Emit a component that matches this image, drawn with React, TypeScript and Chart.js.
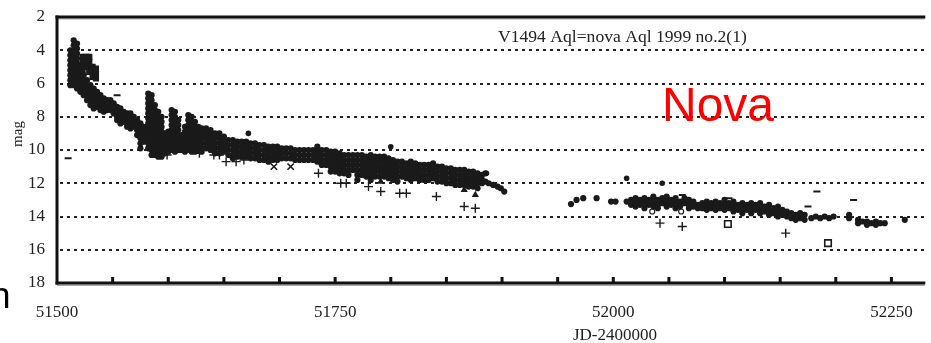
import React, { useEffect, useRef } from 'react';
import { Chart, registerables } from 'chart.js';

Chart.register(...registerables);

// ---- axis setup ----
const xMin = 51500;
const xMax = 52280;
const yMin = 2;
const yMax = 18;
const xLabelTicks = [51500, 51750, 52000, 52250];
const xMinorStep = 50;
const gridMags = [4, 6, 8, 10, 12, 14, 16];

// ---- data: each row is [JD-2400000, mag, mag, ...] read column by column ----
const riseColumns: number[][] = [
  [51512, 4.0, 4.3, 4.6, 4.9, 5.2, 5.5, 5.8, 6.1],
  [51515, 3.4, 3.7, 4.0, 4.3, 4.6, 4.9, 5.2, 5.5, 5.8, 6.1],
  [51518, 3.6, 3.9, 4.2, 4.5, 4.8, 5.1, 5.4, 5.7, 6.0, 6.3],
  [51521, 5.0, 5.3, 5.6, 5.9, 6.2, 6.5],
  [51524, 5.5, 5.8, 6.1, 6.4, 6.7],
  [51527, 5.8, 6.1, 6.4, 6.7, 7.0],
  [51530, 6.1, 6.4, 6.7, 7.0, 7.3],
  [51533, 6.3, 6.6, 6.9, 7.2, 7.5],
  [51536, 6.5, 6.8, 7.1, 7.4],
  [51539, 6.7, 7.0, 7.3, 7.6],
  [51542, 6.9, 7.2, 7.5, 7.7],
  [51545, 7.0, 7.3, 7.6],
  [51548, 7.0, 7.3, 7.6],
  [51551, 7.2, 7.5, 7.8],
  [51554, 7.4, 7.7, 8.0, 8.2],
  [51557, 7.5, 7.8, 8.1, 8.4],
  [51560, 7.7, 8.0, 8.3],
  [51563, 7.8, 8.1, 8.4, 8.6],
  [51566, 7.8, 8.1, 8.4, 8.7],
  [51569, 8.0, 8.3, 8.6],
  [51572, 8.2, 8.5, 8.8, 9.1],
  [51575, 8.4, 8.7, 9.0, 9.3, 9.6, 9.9],
  [51578, 8.6, 8.9, 9.2, 9.5],
];

const flareColumns: number[][] = [
  [51582, 6.6, 6.9, 7.2, 7.5, 7.8, 8.1, 8.4, 8.7, 9.0, 9.3, 9.6, 9.9],
  [51585, 6.7, 7.0, 7.3, 7.6, 7.9, 8.2, 8.5, 8.8, 9.1, 9.4, 9.7, 10.0, 10.3],
  [51588, 7.3, 7.6, 7.9, 8.2, 8.5, 8.8, 9.1, 9.4, 9.7, 10.0, 10.3],
  [51591, 7.7, 8.0, 8.3, 8.6, 8.9, 9.2, 9.5, 9.8, 10.1, 10.4],
  [51594, 8.0, 8.3, 8.6, 8.9, 9.2, 9.5, 9.8, 10.1, 10.4],
  [51597, 9.0, 9.3, 9.6, 9.9, 10.2],
  [51600, 8.9, 9.2, 9.5, 9.8, 10.1],
  [51603, 7.6, 7.9, 8.2, 8.5, 8.8, 9.1, 9.4, 9.7, 10.0],
  [51606, 7.7, 8.0, 8.3, 8.6, 8.9, 9.2, 9.5, 9.8, 10.1],
  [51609, 8.2, 8.5, 8.8, 9.1, 9.4, 9.7, 10.0],
  [51612, 9.1, 9.4, 9.7, 10.0],
  [51615, 8.6, 8.9, 9.2, 9.5, 9.8, 10.1],
  [51618, 7.9, 8.2, 8.5, 8.8, 9.1, 9.4, 9.7, 10.0],
  [51621, 8.0, 8.3, 8.6, 8.9, 9.2, 9.5, 9.8, 10.1],
  [51624, 8.3, 8.6, 8.9, 9.2, 9.5, 9.8, 10.1],
  [51627, 8.6, 8.9, 9.2, 9.5, 9.8, 10.0],
  [51630, 8.7, 9.0, 9.3, 9.6, 9.9, 10.1],
  [51634, 8.7, 9.0, 9.3, 9.6, 9.9],
  [51638, 8.8, 9.1, 9.4, 9.7, 10.0],
  [51642, 9.0, 9.3, 9.6, 9.9, 10.2],
  [51646, 9.0, 9.3, 9.6, 9.9, 10.2],
  [51650, 9.2, 9.5, 9.8, 10.1],
];

const declineColumns: number[][] = [
  [51654, 9.4, 9.7, 10.0, 10.3],
  [51658, 9.4, 9.7, 10.0, 10.3, 10.5],
  [51662, 9.5, 9.8, 10.1, 10.4],
  [51666, 9.5, 9.8, 10.1, 10.4],
  [51670, 9.5, 9.8, 10.1, 10.4],
  [51674, 9.6, 9.9, 10.2, 10.5],
  [51678, 9.6, 9.9, 10.2, 10.5],
  [51682, 9.7, 10.0, 10.3, 10.6],
  [51686, 9.7, 10.0, 10.3, 10.6],
  [51690, 9.8, 10.1, 10.4, 10.7],
  [51694, 9.8, 10.1, 10.4, 10.6],
  [51698, 9.8, 10.1, 10.4, 10.6],
  [51702, 9.9, 10.2, 10.5],
  [51706, 9.9, 10.2, 10.5],
  [51710, 9.9, 10.2, 10.5],
  [51714, 10.0, 10.3, 10.6],
  [51718, 10.0, 10.3, 10.6],
  [51722, 10.0, 10.3, 10.6],
  [51726, 10.0, 10.3, 10.6],
  [51730, 10.0, 10.3, 10.6],
  [51734, 9.8, 10.1, 10.4, 10.7],
  [51738, 10.0, 10.3, 10.6, 10.9],
  [51742, 10.0, 10.3, 10.6, 10.9],
  [51746, 10.1, 10.4, 10.7, 11.0, 11.3],
  [51750, 10.1, 10.4, 10.7, 11.0, 11.3],
  [51754, 10.2, 10.5, 10.8, 11.1, 11.4],
  [51758, 10.3, 10.6, 10.9, 11.2, 11.4],
  [51762, 10.3, 10.6, 10.9, 11.2, 11.5],
  [51766, 10.3, 10.6, 10.9, 11.2],
  [51770, 10.3, 10.6, 10.9, 11.2, 11.5, 11.8],
  [51774, 10.3, 10.6, 10.9, 11.2, 11.5],
  [51778, 10.4, 10.7, 11.0, 11.3, 11.6],
  [51782, 10.3, 10.6, 10.9, 11.2, 11.5, 11.8],
  [51786, 10.4, 10.7, 11.0, 11.3, 11.6],
  [51790, 10.4, 10.7, 11.0, 11.3, 11.6],
  [51794, 10.4, 10.7, 11.0, 11.3, 11.6],
  [51798, 10.5, 10.8, 11.1, 11.4, 11.7],
  [51802, 10.6, 10.9, 11.2, 11.5, 11.8],
  [51806, 10.7, 11.0, 11.3, 11.6, 11.9],
  [51810, 10.7, 11.0, 11.3, 11.6],
  [51814, 10.8, 11.1, 11.4, 11.7],
  [51818, 10.7, 11.0, 11.3, 11.6, 11.8],
  [51822, 10.8, 11.1, 11.4, 11.7],
  [51826, 10.9, 11.2, 11.5, 11.8],
  [51830, 10.9, 11.2, 11.5, 11.8],
  [51834, 10.9, 11.2, 11.5, 11.8],
  [51838, 10.8, 11.1, 11.4, 11.7],
  [51842, 11.0, 11.3, 11.6, 11.9],
  [51846, 11.0, 11.3, 11.6, 11.9],
  [51850, 11.1, 11.4, 11.7, 12.0],
  [51854, 11.1, 11.4, 11.7, 12.0],
  [51858, 11.2, 11.5, 11.8, 12.1],
  [51862, 11.2, 11.5, 11.8, 12.1],
  [51866, 11.2, 11.5, 11.8, 12.1],
  [51870, 11.3, 11.6, 11.9, 12.2],
  [51874, 11.3, 11.6, 11.9, 12.2],
  [51878, 11.4, 11.7, 12.0, 12.3],
  [51882, 11.5, 11.8, 12.0],
  [51885, 11.4, 11.9],
  [51888, 12.0],
  [51892, 12.1],
  [51896, 12.2],
  [51899, 12.3],
  [51902, 12.5],
];

const lateColumns: number[][] = [
  [51962, 13.25],
  [51967, 13.0],
  [51973, 12.9],
  [51985, 12.9],
  [51998, 13.1],
  [52002, 13.1],
  [52012, 13.1],
  [52016, 13.0, 13.3],
  [52020, 12.9, 13.2, 13.4],
  [52024, 13.0, 13.3],
  [52028, 12.9, 13.2, 13.5],
  [52032, 13.0, 13.3],
  [52036, 12.8, 13.1, 13.4],
  [52040, 13.0, 13.3, 13.5],
  [52044, 12.9, 13.2],
  [52048, 12.8, 13.1, 13.4],
  [52052, 13.0, 13.3],
  [52056, 12.9, 13.2, 13.5],
  [52060, 13.1, 13.4],
  [52064, 12.9, 13.2],
  [52068, 13.0, 13.3, 13.5],
  [52072, 13.1, 13.4],
  [52076, 13.3, 13.5],
  [52080, 13.2, 13.5],
  [52084, 13.1, 13.4, 13.6],
  [52088, 13.2, 13.5],
  [52092, 13.1, 13.4, 13.6],
  [52096, 13.2, 13.5],
  [52100, 13.0, 13.3, 13.6],
  [52104, 13.2, 13.5],
  [52108, 13.1, 13.4, 13.7],
  [52112, 13.3, 13.6],
  [52116, 13.2, 13.5, 13.8],
  [52120, 13.3, 13.6],
  [52124, 13.2, 13.5, 13.8],
  [52128, 13.3, 13.6],
  [52132, 13.2, 13.5, 13.8],
  [52136, 13.4, 13.7],
  [52140, 13.3, 13.6, 13.9],
  [52144, 13.5, 13.8],
  [52148, 13.4, 13.7, 14.0],
  [52152, 13.6, 13.9],
  [52156, 13.7, 14.0],
  [52160, 13.8, 14.1],
  [52164, 13.9, 14.2],
  [52168, 13.8, 14.1],
  [52172, 13.9, 14.2],
  [52178, 14.1],
  [52182, 14.0],
  [52186, 14.1],
  [52190, 14.0],
  [52194, 14.1],
  [52198, 14.0],
  [52212, 13.9, 14.1],
  [52220, 14.2, 14.4],
  [52224, 14.3],
  [52228, 14.3, 14.5],
  [52232, 14.4],
  [52236, 14.3, 14.5],
  [52240, 14.4],
  [52244, 14.4],
  [52262, 14.2],
];

const squareColumns: number[][] = [
  [51523, 4.4, 4.7, 5.0, 5.3],
  [51526, 4.4, 4.7, 5.0],
  [51529, 4.4, 4.7, 5.0, 5.3],
  [51532, 5.0, 5.3, 5.6],
  [51535, 5.1, 5.4, 5.7],
];

const singleDots: number[][] = [
  [51672, 9.0], [51800, 9.8], [51886, 11.4], [52012, 11.7], [52044, 12.0],
];

const plusMarks: number[][] = [
  [51599, 10.3], [51628, 10.2], [51641, 10.3], [51646, 10.3], [51652, 10.7],
  [51661, 10.7], [51668, 10.6], [51735, 11.4], [51755, 12.0], [51760, 12.0],
  [51780, 12.2], [51791, 12.5], [51808, 12.6], [51814, 12.6], [51841, 12.8],
  [51866, 13.4], [51876, 13.5], [52042, 14.4], [52062, 14.6], [52155, 15.0],
];

const xMarks: number[][] = [[51695, 11.0], [51710, 11.0]];
const triangleMarks: number[][] = [[51791, 11.9], [51866, 12.4], [51876, 12.7]];
const openCircleMarks: number[][] = [[52035, 13.7], [52061, 13.7]];
const openSquareMarks: number[][] = [[52103, 14.45], [52193, 15.6]];
const dashMarks: number[][] = [
  [51510, 10.5], [51554, 6.7], [52062, 12.7], [52104, 12.9], [52175, 13.4], [52183, 12.5], [52216, 13.0],
];

const titleText = 'V1494 Aql=nova Aql 1999 no.2(1)';
const xTitle = 'JD-2400000';
const yTitle = 'mag';
const overlayText = 'Nova';

function fromColumns(cols: number[][]) {
  const pts: { x: number; y: number }[] = [];
  for (const c of cols) for (let i = 1; i < c.length; i++) pts.push({ x: c[0], y: c[i] });
  return pts;
}
function fromPairs(p: number[][]) {
  return p.map(([x, y]) => ({ x, y }));
}

const SERIF = '"Liberation Serif", "DejaVu Serif", serif';
const SANS = '"Liberation Sans", Arial, sans-serif';
const INK = '#1a1a1a';

const decor = {
  id: 'decor',
  beforeDatasetsDraw(chart: any) {
    const { ctx, chartArea: a, scales } = chart;
    const y = scales.y;
    ctx.save();
    ctx.strokeStyle = '#222';
    ctx.lineWidth = 2;
    ctx.setLineDash([3, 4]);
    for (const v of gridMags) {
      const py = Math.round(y.getPixelForValue(v));
      ctx.beginPath();
      ctx.moveTo(a.left + 3, py);
      ctx.lineTo(a.right, py);
      ctx.stroke();
    }
    ctx.setLineDash([]);
    ctx.restore();
  },
  afterDatasetsDraw(chart: any) {
    const { ctx, chartArea: a, scales } = chart;
    const x = scales.x;
    ctx.save();
    // frame
    ctx.fillStyle = '#aaa';
    ctx.fillRect(a.left, a.bottom + 1.5, a.right - a.left, 1.5);
    ctx.fillRect(a.left, a.top + 1.5, a.right - a.left, 1);
    ctx.fillStyle = '#111';
    ctx.fillRect(a.left - 1.5, a.top - 1.5, a.right - a.left + 2, 3);
    ctx.fillRect(a.left - 1.5, a.top - 1.5, 3, a.bottom - a.top + 3);
    ctx.fillRect(a.left - 1.5, a.bottom - 1.5, a.right - a.left + 2, 3);
    // minor tick marks
    for (let v = xMin + xMinorStep; v <= xMax; v += xMinorStep) {
      const px = x.getPixelForValue(v);
      ctx.fillRect(px - 1.5, a.bottom - 6, 3, 6);
    }
    // texts
    ctx.fillStyle = '#222';
    ctx.font = `17.6px ${SERIF}`;
    ctx.textBaseline = 'alphabetic';
    ctx.textAlign = 'left';
    ctx.fillText(titleText, 498, 42);
    ctx.font = `17px ${SERIF}`;
    ctx.textAlign = 'center';
    ctx.fillText(xTitle, 615, 340);
    ctx.save();
    ctx.translate(22, 134);
    ctx.rotate(-Math.PI / 2);
    ctx.font = `15px ${SERIF}`;
    ctx.fillText(yTitle, 0, 0);
    ctx.restore();
    ctx.fillStyle = '#ff0000';
    ctx.font = `48px ${SANS}`;
    ctx.textAlign = 'left';
    ctx.fillText(overlayText, 662, 121);
    ctx.fillStyle = '#000';
    ctx.font = `36px ${SANS}`;
    ctx.textAlign = 'right';
    ctx.fillText('n', 10.5, 308);
    ctx.restore();
  },
};

export default function App() {
  const ref = useRef<HTMLCanvasElement | null>(null);
  useEffect(() => {
    if (!ref.current) return;
    const dot = { backgroundColor: INK, borderColor: INK, borderWidth: 0, pointStyle: 'circle', pointRadius: 3.1 };
    const chart = new Chart(ref.current, {
      type: 'scatter',
      data: {
        datasets: [
          { label: 'rise', data: fromColumns(riseColumns), ...dot },
          { label: 'flares', data: fromColumns(flareColumns), ...dot },
          { label: 'decline', data: fromColumns(declineColumns), ...dot },
          { label: 'late', data: fromColumns(lateColumns), ...dot },
          { label: 'singles', data: fromPairs(singleDots), ...dot, pointRadius: 2.8 },
          { label: 'squares', data: fromColumns(squareColumns), backgroundColor: INK, borderColor: INK, borderWidth: 0, pointStyle: 'rect', pointRadius: 4.4 },
          { label: 'plus', data: fromPairs(plusMarks), backgroundColor: INK, borderColor: INK, borderWidth: 1.4, pointStyle: 'cross', pointRadius: 4.5 },
          { label: 'x', data: fromPairs(xMarks), backgroundColor: INK, borderColor: INK, borderWidth: 1.6, pointStyle: 'crossRot', pointRadius: 4.5 },
          { label: 'tri', data: fromPairs(triangleMarks), backgroundColor: INK, borderColor: INK, borderWidth: 0, pointStyle: 'triangle', pointRadius: 4.2 },
          { label: 'ocirc', data: fromPairs(openCircleMarks), backgroundColor: '#fff', borderColor: INK, borderWidth: 1.2, pointStyle: 'circle', pointRadius: 2.5 },
          { label: 'osq', data: fromPairs(openSquareMarks), backgroundColor: '#fff', borderColor: INK, borderWidth: 1.6, pointStyle: 'rect', pointRadius: 4.6 },
          { label: 'dash', data: fromPairs(dashMarks), backgroundColor: INK, borderColor: INK, borderWidth: 2, pointStyle: 'line', pointRadius: 3.5 },
        ] as any,
      },
      options: {
        animation: false,
        responsive: false,
        devicePixelRatio: 1,
        layout: { padding: { top: 17, left: 0, right: 0, bottom: 0 } },
        plugins: { legend: { display: false }, tooltip: { enabled: false }, title: { display: false } },
        scales: {
          x: {
            type: 'linear',
            min: xMin,
            max: xMax,
            grid: { display: false, drawTicks: false },
            border: { display: false },
            ticks: {
              autoSkip: false,
              maxRotation: 0,
              padding: 19,
              color: '#222',
              font: { family: SERIF, size: 17 },
              callback: (v: any) => String(v),
            },
            afterBuildTicks: (s: any) => { s.ticks = xLabelTicks.map((v) => ({ value: v })); },
            afterFit: (s: any) => { s.height = 60; s.paddingLeft = 0; s.paddingRight = 0; },
          },
          y: {
            type: 'linear',
            reverse: true,
            min: yMin,
            max: yMax,
            grid: { display: false, drawTicks: false },
            border: { display: false },
            ticks: {
              stepSize: 2,
              padding: 12,
              color: '#222',
              font: { family: SERIF, size: 17 },
              callback: (v: any) => String(v),
            },
            afterFit: (s: any) => { s.width = 57; s.paddingTop = 0; s.paddingBottom = 0; },
          },
        },
      } as any,
      plugins: [decor],
    });
    return () => chart.destroy();
  }, []);
  return (
    <div style={{ position: 'absolute', left: 0, top: 0, width: 931, height: 343, background: '#fff' }}>
      <canvas ref={ref} width={931} height={343} style={{ display: 'block' }} />
    </div>
  );
}
